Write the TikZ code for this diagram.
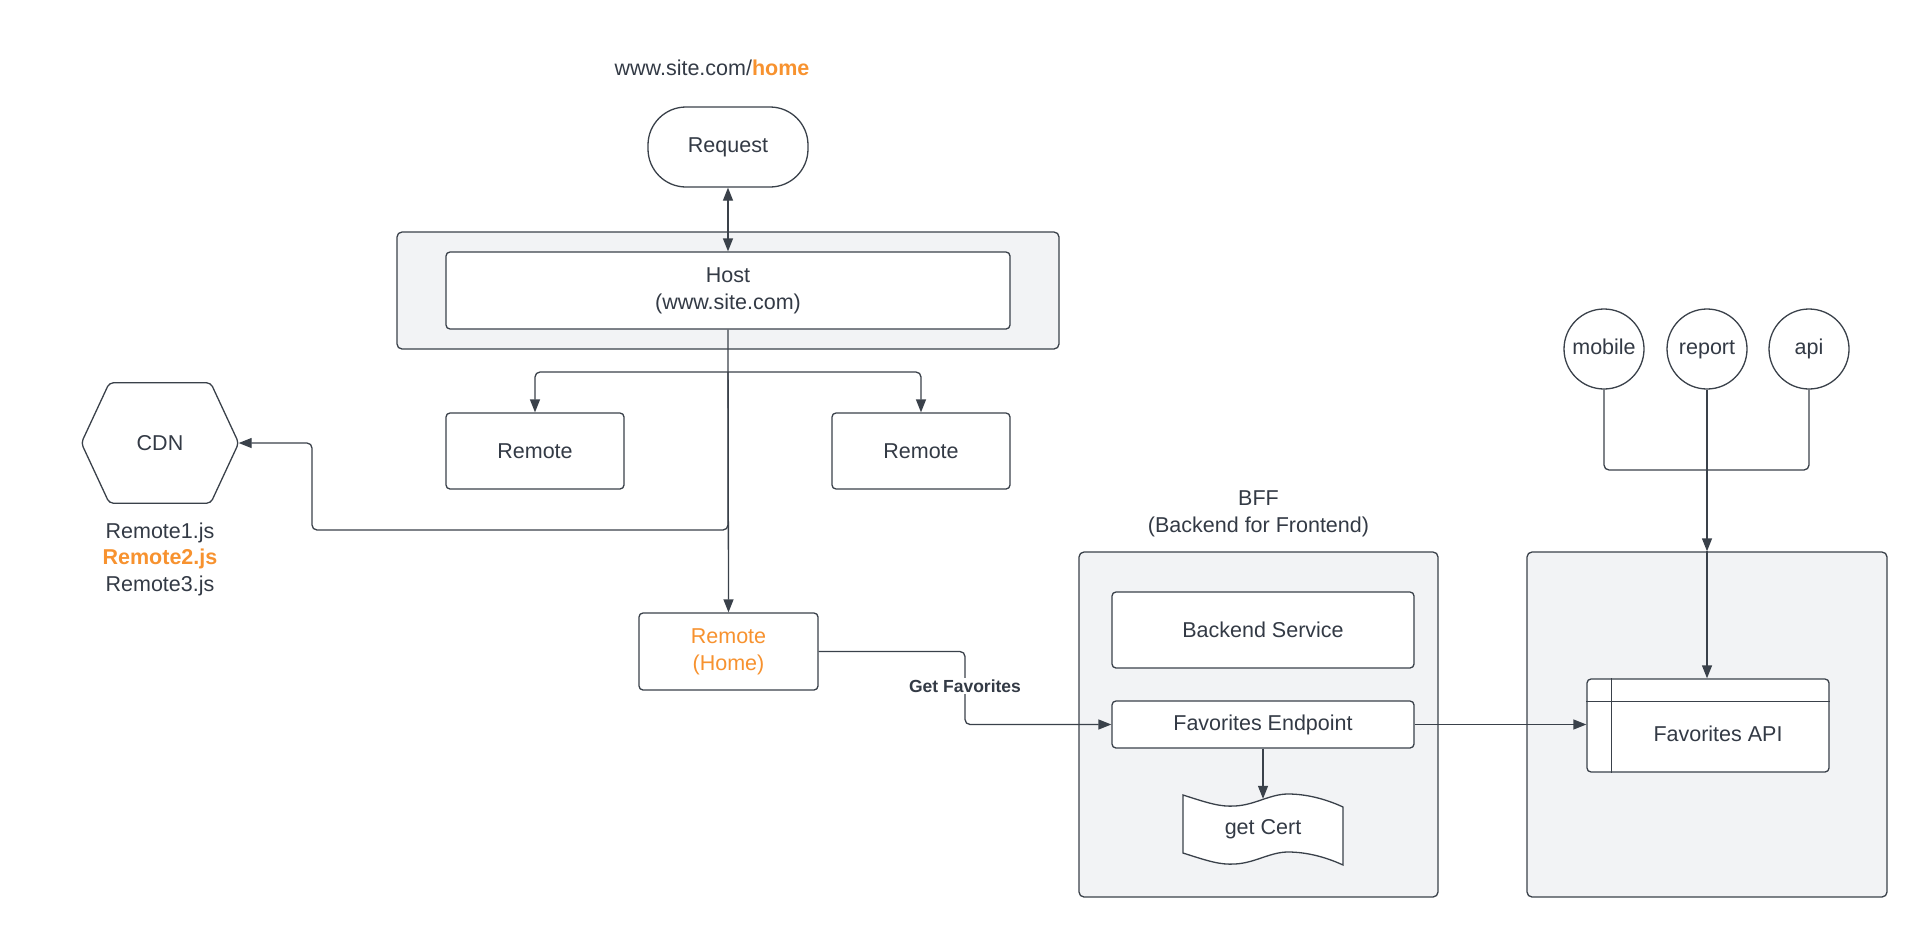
\documentclass[tikz,border=0pt]{standalone}
\usepackage{fontspec}
\setmainfont{Liberation Sans}
\usetikzlibrary{arrows.meta}
\definecolor{inkGray}{HTML}{333A45}
\definecolor{lineGray}{HTML}{3A414A}
\definecolor{groupGray}{HTML}{F2F3F5}
\definecolor{lucidOrange}{HTML}{F7922F}

\begin{document}
\begin{tikzpicture}
[x=1pt,y=-1pt,
  >={Triangle[length=13pt,width=10pt]},
  every node/.style={text=inkGray,font=\fontsize{21.5}{27}\selectfont},
  lineDecorate/.style={draw=lineGray,line width=1.3pt,rounded corners=5pt},
  boxDecorate/.style={shape=rectangle,draw=lineGray,line width=1.3pt,fill=white,
    rounded corners=4pt,inner sep=0pt,align=center},
  groupDecorate/.style={shape=rectangle,draw=lineGray,line width=1.3pt,
    fill=groupGray,rounded corners=5pt,inner sep=0pt},
  circleDecorate/.style={shape=circle,draw=lineGray,line width=1.3pt,fill=white,
    minimum size=80pt,inner sep=0pt,text height=15.5pt,text depth=4.5pt},
  labelDecorate/.style={fill=white,inner sep=2pt,
    font=\bfseries\fontsize{17.5}{21}\selectfont}]
\useasboundingbox (0,0) rectangle (1926,937);
%%
%%%%%%%%%%%%%%%%%%%%%%%%%%%%%%%%%%%%%%%%%%%%%%%%%%%%%%%%%%%%%%%%%%%%%%%%%%%
%%
%% request and host
\node (url) at (712,68) {www.site.com/{\color{lucidOrange}\bfseries home}};
\node (req) at (728,147) [boxDecorate,minimum width=160pt,minimum height=80pt,
  rounded corners=38pt] {Request};
\node (hostGroup) at (728,290.5) [groupDecorate,minimum width=662pt,
  minimum height=117pt] {};
\node (host) at (728,290.5) [boxDecorate,minimum width=564pt,
  minimum height=77pt] {Host\\(www.site.com)};
%% remotes
\node (r1) at (535,451) [boxDecorate,minimum width=178pt,minimum height=76pt] {Remote};
\node (r2) at (921,451) [boxDecorate,minimum width=178pt,minimum height=76pt] {Remote};
\node (home) at (728.5,651.5) [boxDecorate,minimum width=179pt,minimum height=77pt,
  text=lucidOrange] {Remote\\(Home)};
%% cdn
\node (cdn) at (160,443) [minimum width=157pt,minimum height=120pt,inner sep=0pt] {CDN};
\draw[lineDecorate,rounded corners=4pt] (cdn.west) -- ([xshift=28pt]cdn.north west)
  -- ([xshift=-28pt]cdn.north east) -- (cdn.east)
  -- ([xshift=-28pt]cdn.south east) -- ([xshift=28pt]cdn.south west) -- cycle;
\node (jsList) at (160,559) [align=center,font=\fontsize{21.5}{26.5}\selectfont]
  {Remote1.js\\{\color{lucidOrange}\bfseries Remote2.js}\\Remote3.js};
%%
%%%%%%%%%%%%%%%%%%%%%%%%%%%%%%%%%%%%%%%%%%%%%%%%%%%%%%%%%%%%%%%%%%%%%%%%%%%
%%
%% bff
\node (bffLabel) at (1258.5,513.5) [align=center] {BFF\\(Backend for Frontend)};
\node (bffGroup) at (1258.5,724.5) [groupDecorate,minimum width=359pt,
  minimum height=345pt] {};
\node (backend) at (1263,630) [boxDecorate,minimum width=302pt,
  minimum height=76pt] {Backend Service};
\node (fe) at (1263,724.5) [boxDecorate,minimum width=302pt,
  minimum height=47pt] {Favorites Endpoint};
%% wavy cert shape
\draw[lineGray,line width=1.3pt,fill=white]
  (1183,795) .. controls (1208,803) and (1220,807) .. (1235,806)
  .. controls (1255,805) and (1270,794) .. (1288,794)
  .. controls (1310,794) and (1330,801) .. (1343,807)
  -- (1343,865)
  .. controls (1330,859) and (1310,852) .. (1288,852)
  .. controls (1270,852) and (1255,863) .. (1235,864)
  .. controls (1220,865) and (1208,861) .. (1183,853) -- cycle;
\node (gc) at (1263,829) [minimum width=160pt,minimum height=60pt,
  inner sep=0pt] {get Cert};
%%
%%%%%%%%%%%%%%%%%%%%%%%%%%%%%%%%%%%%%%%%%%%%%%%%%%%%%%%%%%%%%%%%%%%%%%%%%%%
%%
%% api side
\foreach \nodename/\x in {mobile/1604, report/1707, api/1809}
{
  \node (\nodename) at (\x,349) [circleDecorate] {\nodename};
}
\node (apiGroup) at (1707,724.5) [groupDecorate,minimum width=360pt,
  minimum height=345pt] {};
\node (favApi) at (1708,725.5) [boxDecorate,minimum width=242pt,minimum height=93pt,
  label={[xshift=10pt,yshift=-8pt]center:Favorites API}] {};
\draw[lineDecorate] ([xshift=25pt]favApi.north west) -- ([xshift=25pt]favApi.south west);
\draw[lineDecorate] ([yshift=-23pt]favApi.north west) -- ([yshift=-23pt]favApi.north east);
%%
%%%%%%%%%%%%%%%%%%%%%%%%%%%%%%%%%%%%%%%%%%%%%%%%%%%%%%%%%%%%%%%%%%%%%%%%%%%
%%
%% connectors
\coordinate (fork) at (728,372);
\coordinate (cdnBend) at (312,530);
\coordinate (favBend) at (965,686);
\coordinate (merge) at (1707,470);
\draw[lineDecorate,<->] (req.south) -- (host.north);
\draw[lineDecorate,->] (fork) -| (r1.north);
\draw[lineDecorate,->] (fork) -| (r2.north);
\draw[lineDecorate,->] (host.south) -- (home.north);
\draw[lineDecorate,->] (fork) |- (cdnBend) |- (cdn.east);
\draw[lineDecorate,->] (home.east) -| (favBend) |- (fe.west);
\node (getFav) at (favBend) [labelDecorate] {Get Favorites};
\draw[lineDecorate,->] (fe.south) -- (gc.north);
\draw[lineDecorate,->] (fe.east) -- (fe.east -| favApi.west);
\draw[lineDecorate] (mobile.south) |- (merge);
\draw[lineDecorate] (api.south) |- (merge);
\draw[lineDecorate,->] (report.south) -- (report.south |- apiGroup.north);
\draw[lineDecorate,->] (report.south |- apiGroup.north) -- (report.south |- favApi.north);
\end{tikzpicture}
\end{document}
